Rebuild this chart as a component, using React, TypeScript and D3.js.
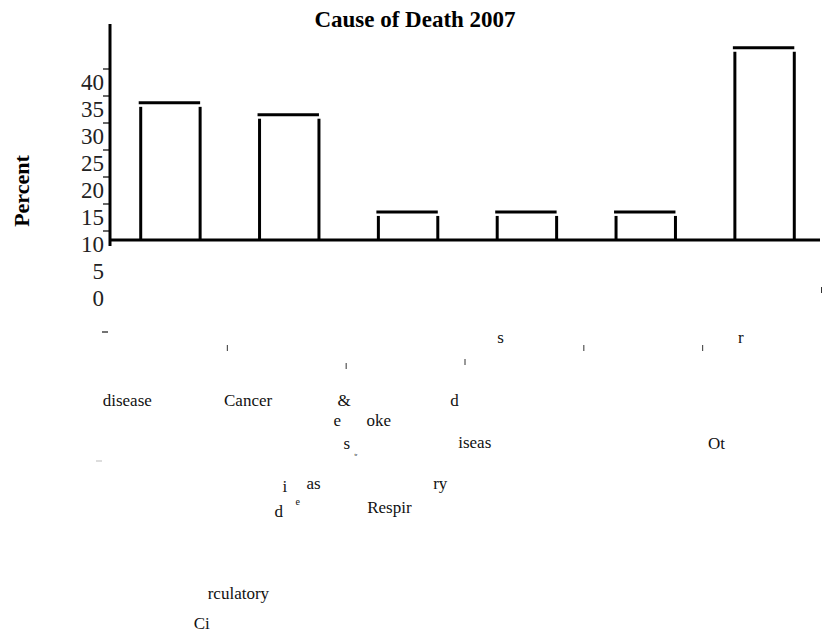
import * as d3 from 'd3'
import { useEffect, useRef } from 'react'

const W = 825
const H = 634
const font = "'Liberation Serif', 'Times New Roman', serif"

// data
const categories = [
  'Circulatory disease',
  'Cancer',
  'Cerebrovascular disease & stroke',
  'Respiratory diseases',
  'Accidents',
  'Other',
]
const percents = [25.4, 23.2, 5.2, 5.2, 5.2, 35.6]
const tickValues = [10, 15, 20, 25, 30, 35, 40]
const tickLabels = [0, 5, 10, 15, 20, 25, 30, 35, 40]

// the broken label pieces, relative to each band
const labelPieces = [
  { cat: 0, text: 'disease', dx: -38, y: 406, size: 17 },
  { cat: 0, text: 'rculatory', dx: 67, y: 599, size: 17 },
  { cat: 0, text: 'Ci', dx: 53, y: 629, size: 17 },
  { cat: 1, text: 'Cancer', dx: -35.5, y: 406, size: 17 },
  { cat: 2, text: '&', dx: -41, y: 406, size: 17 },
  { cat: 2, text: 'e', dx: -45, y: 426, size: 17 },
  { cat: 2, text: 'oke', dx: -12, y: 426, size: 17 },
  { cat: 2, text: 's', dx: -35, y: 449, size: 17 },
  { cat: 2, text: 'tr', dx: -24, y: 456, size: 5 },
  { cat: 2, text: 'i', dx: -96, y: 492, size: 17 },
  { cat: 2, text: 'as', dx: -72, y: 489, size: 17 },
  { cat: 2, text: 'e', dx: -83, y: 505, size: 10 },
  { cat: 2, text: 'd', dx: -104, y: 517, size: 17 },
  { cat: 3, text: 'Respir', dx: -130, y: 513, size: 17 },
  { cat: 3, text: 'ry', dx: -64, y: 489, size: 17 },
  { cat: 3, text: 's', dx: 0, y: 343, size: 17 },
  { cat: 3, text: 'd', dx: -47, y: 406, size: 17 },
  { cat: 3, text: 'iseas', dx: -39, y: 448, size: 17 },
  { cat: 5, text: 'Ot', dx: -27, y: 449, size: 17 },
  { cat: 5, text: 'r', dx: 3, y: 343, size: 17 },
]
// where the band-edge ticks ended up
const edgeTickTops = [345, 363, 359, 345, 345, 287]

const axisX = 110
const baseY = 240

export default function App() {
  const ref = useRef<SVGSVGElement>(null)

  useEffect(() => {
    const svg = d3.select(ref.current)
    svg.selectAll('*').remove()

    const x = d3
      .scaleBand()
      .domain(categories)
      .range([111, 824])
      .paddingInner(0.5)
      .paddingOuter(0.25)
    const y = d3.scaleLinear().domain([0, 40]).range([285, 69])
    const bw = x.bandwidth()
    const step = x.step()

    svg
      .append('text')
      .attr('x', 415)
      .attr('y', 27)
      .attr('text-anchor', 'middle')
      .attr('font-family', font)
      .attr('font-weight', 'bold')
      .attr('font-size', 23)
      .text('Cause of Death 2007')

    svg
      .append('text')
      .attr('transform', 'translate(29,191) rotate(-90)')
      .attr('text-anchor', 'middle')
      .attr('font-family', font)
      .attr('font-weight', 'bold')
      .attr('font-size', 22)
      .text('Percent')

    // y ticks and their shifted labels
    svg
      .selectAll('line.ytick')
      .data(tickValues)
      .join('line')
      .attr('x1', axisX - 7)
      .attr('x2', axisX)
      .attr('y1', (d) => y(d))
      .attr('y2', (d) => y(d))
      .attr('stroke', '#000')
      .attr('stroke-width', 1.2)

    svg
      .selectAll('text.ylab')
      .data(tickLabels)
      .join('text')
      .attr('x', 104)
      .attr('y', (d) => y(d) + 13)
      .attr('dy', '0.35em')
      .attr('text-anchor', 'end')
      .attr('font-family', font)
      .attr('font-size', 23)
      .attr('fill', '#222')
      .text((d) => d)

    // bars, drawn as loose strokes
    const bars = svg
      .selectAll('g.bar')
      .data(categories)
      .join('g')
      .attr('stroke', '#000')
      .attr('stroke-width', 3)
    bars
      .append('line')
      .attr('x1', (d) => x(d)! - 2)
      .attr('x2', (d) => x(d)! + bw)
      .attr('y1', (d, i) => baseY - (y(0) - y(percents[i])))
      .attr('y2', (d, i) => baseY - (y(0) - y(percents[i])))
    bars
      .selectAll('line.side')
      .data((d, i) => [
        { x: x(d)!, top: baseY - (y(0) - y(percents[i])) },
        { x: x(d)! + bw, top: baseY - (y(0) - y(percents[i])) },
      ])
      .join('line')
      .attr('x1', (d) => d.x)
      .attr('x2', (d) => d.x)
      .attr('y1', (d) => d.top + 4)
      .attr('y2', baseY)

    // axes
    svg
      .append('line')
      .attr('x1', axisX)
      .attr('x2', 820)
      .attr('y1', baseY)
      .attr('y2', baseY)
      .attr('stroke', '#000')
      .attr('stroke-width', 3)
    svg
      .append('line')
      .attr('x1', axisX)
      .attr('x2', axisX)
      .attr('y1', 24)
      .attr('y2', 246)
      .attr('stroke', '#000')
      .attr('stroke-width', 3)

    // band-edge ticks that fell down the page
    svg
      .selectAll('line.edge')
      .data(categories)
      .join('line')
      .attr('x1', (d) => x(d)! + bw + step * 0.25 - 2.5)
      .attr('x2', (d) => x(d)! + bw + step * 0.25 - 2.5)
      .attr('y1', (d, i) => edgeTickTops[i])
      .attr('y2', (d, i) => edgeTickTops[i] + 6)
      .attr('stroke', '#333')
      .attr('stroke-width', 1)
    svg
      .append('line')
      .attr('x1', 102)
      .attr('x2', 108)
      .attr('y1', 332)
      .attr('y2', 332)
      .attr('stroke', '#444')
      .attr('stroke-width', 1.5)
    svg
      .append('line')
      .attr('x1', 96)
      .attr('x2', 102)
      .attr('y1', 461)
      .attr('y2', 461)
      .attr('stroke', '#bbb')
      .attr('stroke-width', 1)

    svg
      .selectAll('text.piece')
      .data(labelPieces)
      .join('text')
      .attr('x', (d) => x(categories[d.cat])! + d.dx)
      .attr('y', (d) => d.y)
      .attr('font-family', font)
      .attr('font-size', (d) => d.size)
      .attr('fill', '#111')
      .text((d) => d.text)
  }, [])

  return (
    <div>
      <style>{`body { margin: 0; }`}</style>
      <svg ref={ref} width={W} height={H} style={{ display: 'block', background: '#fff' }} />
    </div>
  )
}
